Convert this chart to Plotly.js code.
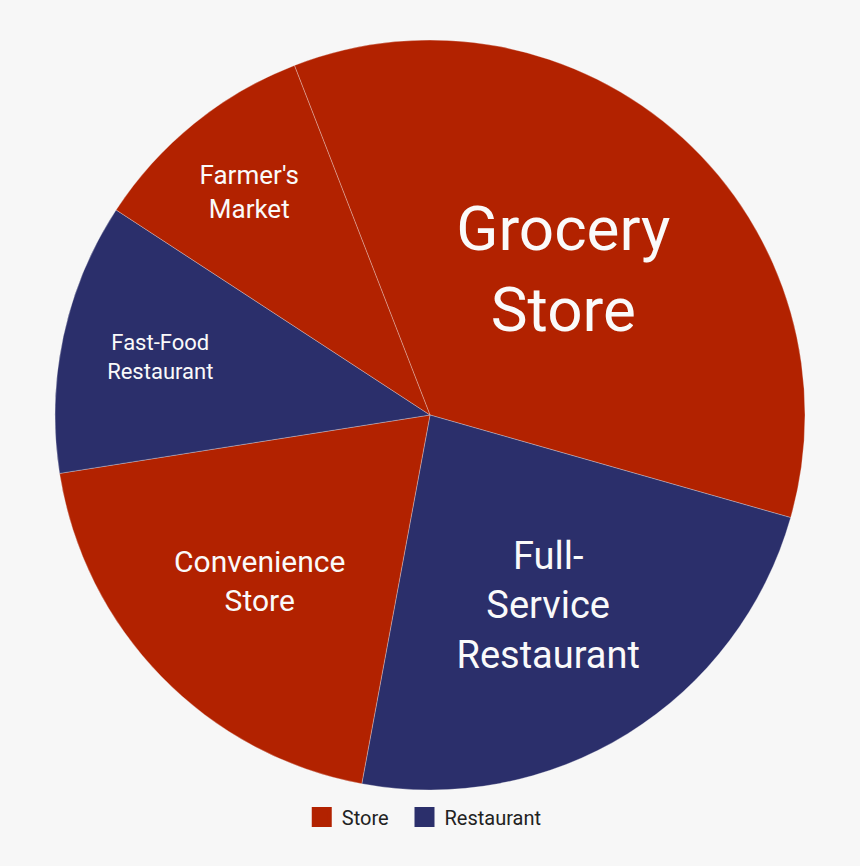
<!DOCTYPE html>
<html>
<head>
<meta charset="utf-8">
<script src="https://cdn.plot.ly/plotly-3.0.1.min.js"></script>
<style>
  html, body { margin: 0; padding: 0; background: #f7f7f7; }
  #chart { width: 860px; height: 866px; }
</style>
</head>
<body>
<div id="chart"></div>
<script>
// where people buy food, share of purchases
var categories = ["Grocery<br>Store", "Full-<br>Service<br>Restaurant", "Convenience<br>Store", "Fast-Food<br>Restaurant", "Farmer's<br>Market"];
var shares = [35.3, 23.5, 19.6, 11.7, 9.9];
var kinds = ["Store", "Restaurant", "Store", "Restaurant", "Store"];
var groups = ["Store", "Restaurant"];

var colorOf = { "Store": "#b22200", "Restaurant": "#2b2f6b" };
var labelSizes = [62, 38, 30, 22, 26];

var pie = {
  type: "pie",
  labels: categories,
  values: shares,
  sort: false,
  direction: "clockwise",
  rotation: -21.2,
  textinfo: "label",
  textposition: "inside",
  insidetextorientation: "horizontal",
  hoverinfo: "label+percent",
  marker: {
    colors: kinds.map(function (k) { return colorOf[k]; }),
    line: { color: "rgba(247,247,247,0.6)", width: 0.5 }
  },
  textfont: { color: "#fafafa", size: labelSizes, family: "Roboto" },
  showlegend: false
};

// legend keys only, one per group, each in its own legend box
var keys = groups.map(function (g, i) {
  return {
    type: "scatter",
    mode: "markers",
    x: [null],
    y: [null],
    name: g,
    legend: i === 0 ? "legend" : "legend2",
    marker: { symbol: "square", size: 16, color: colorOf[g], line: { color: colorOf[g], width: 4 } },
    hoverinfo: "skip"
  };
});

var legendStyle = function (x) {
  return {
    orientation: "h",
    x: x,
    xanchor: "left",
    y: -0.01,
    yanchor: "top",
    font: { size: 20, color: "#222" },
    bgcolor: "rgba(0,0,0,0)"
  };
};

var layout = {
  width: 860,
  height: 866,
  paper_bgcolor: "#f7f7f7",
  plot_bgcolor: "#f7f7f7",
  margin: { l: 55, r: 55, t: 40, b: 76 },
  font: { family: "Roboto", color: "#222" },
  xaxis: { visible: false },
  yaxis: { visible: false },
  showlegend: true,
  legend: legendStyle(0.329),
  legend2: legendStyle(0.466)
};

Plotly.newPlot("chart", [pie].concat(keys), layout, { displayModeBar: false });
</script>
</body>
</html>
